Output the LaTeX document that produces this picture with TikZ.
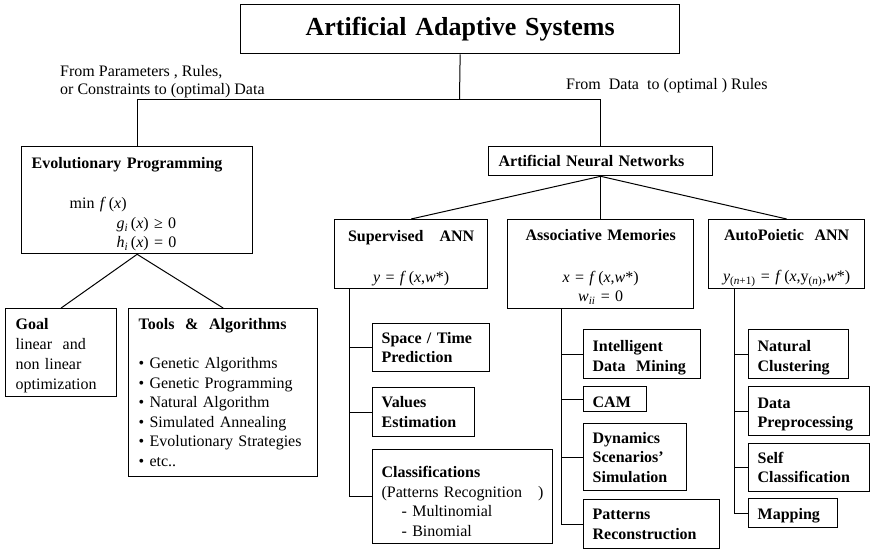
\documentclass[tikz,border=0pt]{standalone}
\usepackage{fontspec}
\setmainfont{Liberation Serif}
\usetikzlibrary{calc}
\newcommand{\dn}[1]{\rule{0pt}{#1}}
\tikzset{
  box/.style={draw, line width=1.3pt, anchor=north west, inner xsep=10pt, inner ysep=0pt,
    align=left, font=\fontsize{16}{19.5}\selectfont},
  cbox/.style={box, align=center},
  conn/.style={line width=1pt},
  lbl/.style={font=\fontsize{16}{18}\selectfont, align=left, inner sep=0pt, anchor=west}
}
\begin{document}
\begin{tikzpicture}[x=1pt,y=-1pt]
\useasboundingbox (0,0) rectangle (870,549);
% top
\node[cbox, text width=419pt, minimum height=49pt, font=\fontsize{26}{30}\selectfont\bfseries] (title) at (240,4) {Artificial Adaptive Systems};
\node[lbl] (lblL) at (60,81.5) {From Parameters , Rules,\\or Constraints to (optimal) Data};
\node[lbl] (lblR) at (566,85.5) {From\ \ Data\ \ to (optimal ) Rules};
% level 1
\node[box, text width=211pt, minimum height=107pt] (evo) at (21,146) {\dn{20pt}\textbf{Evolutionary Programming}\\[20.5pt]
\hspace*{38pt}min \textit{f}\,(\textit{x})\\
\hspace*{85pt}\textit{g}\textsubscript{\textit{i}}\,(\textit{x}) ≥ 0\\
\hspace*{85pt}\textit{h}\textsubscript{\textit{i}}\,(\textit{x}) = 0};
\node[box, text width=204pt, minimum height=29pt] (ann) at (488,146) {\textbf{Artificial Neural Networks}};
% evolutionary children
\node[box, text width=91pt, minimum height=88pt, font=\fontsize{16}{20}\selectfont] (goal) at (5,308) {\dn{17pt}\textbf{Goal}\\linear\ \ and\\non linear\\optimization};
\node[box, text width=169pt, minimum height=168pt] (tools) at (128,308) {\textbf{Tools\ \ \&\ \ Algorithms}\\[19.5pt]
• Genetic Algorithms\\
• Genetic Programming\\
• Natural Algorithm\\
• Simulated Annealing\\
• Evolutionary Strategies\\
• etc..};
% ANN children
\node[cbox, text width=133pt, minimum height=69pt] (sup) at (334,219) {\dn{19pt}\textbf{Supervised\quad ANN}\\[22pt]
\textit{y} = \textit{f}\,(\textit{x},\textit{w}*)};
\node[cbox, text width=166pt, minimum height=89pt] (assoc) at (507,219) {\dn{17pt}\textbf{Associative Memories}\\[22pt]
\textit{x} = \textit{f}\,(\textit{x},\textit{w}*)\\
\textit{w}\textsubscript{\textit{ii}} = 0};
\node[cbox, inner xsep=1pt, text width=154pt, minimum height=69pt] (auto) at (708,219) {\dn{19pt}\textbf{AutoPoietic\ \ ANN}\\[22pt]
\textit{y}\textsubscript{(\textit{n}+1)} = \textit{f}\,(\textit{x},y\textsubscript{(\textit{n})},\textit{w}*)};
% supervised leaves
\node[box, inner xsep=9pt, text width=99pt, minimum height=48pt] (st) at (372,323) {\textbf{Space / Time}\\\textbf{Prediction}};
\node[box, inner xsep=9pt, text width=84pt, minimum height=49pt] (val) at (372,387) {\textbf{Values}\\\textbf{Estimation}};
\node[box, inner xsep=9pt, text width=162pt, minimum height=94pt] (cls) at (372,449) {\dn{21pt}\textbf{Classifications}\\(Patterns Recognition\quad)\\\hspace*{20pt}- Multinomial\\\hspace*{20pt}- Binomial};
% associative leaves
\node[box, inner xsep=9pt, text width=99pt, minimum height=49pt] (idm) at (583,329) {\dn{18pt}\textbf{Intelligent}\\\textbf{Data\ \ Mining}};
\node[box, inner xsep=9pt, text width=45pt, minimum height=25pt] (cam) at (583,386) {\dn{17pt}\textbf{CAM}};
\node[box, inner xsep=9pt, text width=85pt, minimum height=67pt] (dyn) at (583,423) {\textbf{Dynamics}\\\textbf{Scenarios’}\\\textbf{Simulation}};
\node[box, inner xsep=9pt, text width=118pt, minimum height=49pt] (pat) at (583,499) {\textbf{Patterns}\\\textbf{Reconstruction}};
% autopoietic leaves
\node[box, inner xsep=9pt, text width=82pt, minimum height=49pt] (nat) at (748,329) {\dn{18pt}\textbf{Natural}\\\textbf{Clustering}};
\node[box, inner xsep=9pt, text width=103pt, minimum height=49pt] (dat) at (748,386) {\dn{17pt}\textbf{Data}\\\textbf{Preprocessing}};
\node[box, inner xsep=9pt, text width=103pt, minimum height=48pt] (self) at (748,443) {\textbf{Self}\\\textbf{Classification}};
\node[box, inner xsep=9pt, text width=71pt, minimum height=29pt] (map) at (748,498) {\dn{17pt}\textbf{Mapping}};
% connectors
\coordinate (split) at (459.5,99);
\draw[conn] (title.south) -- (split);
\draw[conn] (evo.north) |- (ann.north |- split) -- (ann.north);
\draw[conn] (evo.south) -- (goal.north);
\draw[conn] (evo.south) -- (tools.north);
\draw[conn] (ann.south) -- (sup.north);
\draw[conn] (ann.south) -- (assoc.north);
\draw[conn] (ann.south) -- (auto.north);
\coordinate (supl) at ($(sup.south west)+(15,0)$);
\draw[conn] (supl) |- (cls.west);
\draw[conn] (supl |- st.west) -- (st.west);
\draw[conn] (supl |- val.west) -- (val.west);
\coordinate (asl) at ($(assoc.south west)+(54,0)$);
\draw[conn] (asl) |- (pat.west);
\draw[conn] (asl |- idm.west) -- (idm.west);
\draw[conn] (asl |- cam.west) -- (cam.west);
\draw[conn] (asl |- dyn.west) -- (dyn.west);
\coordinate (aul) at ($(auto.south west)+(26,0)$);
\draw[conn] (aul) |- (map.west);
\draw[conn] (aul |- nat.west) -- (nat.west);
\draw[conn] (aul |- dat.west) -- (dat.west);
\draw[conn] (aul |- self.west) -- (self.west);
\end{tikzpicture}
\end{document}
